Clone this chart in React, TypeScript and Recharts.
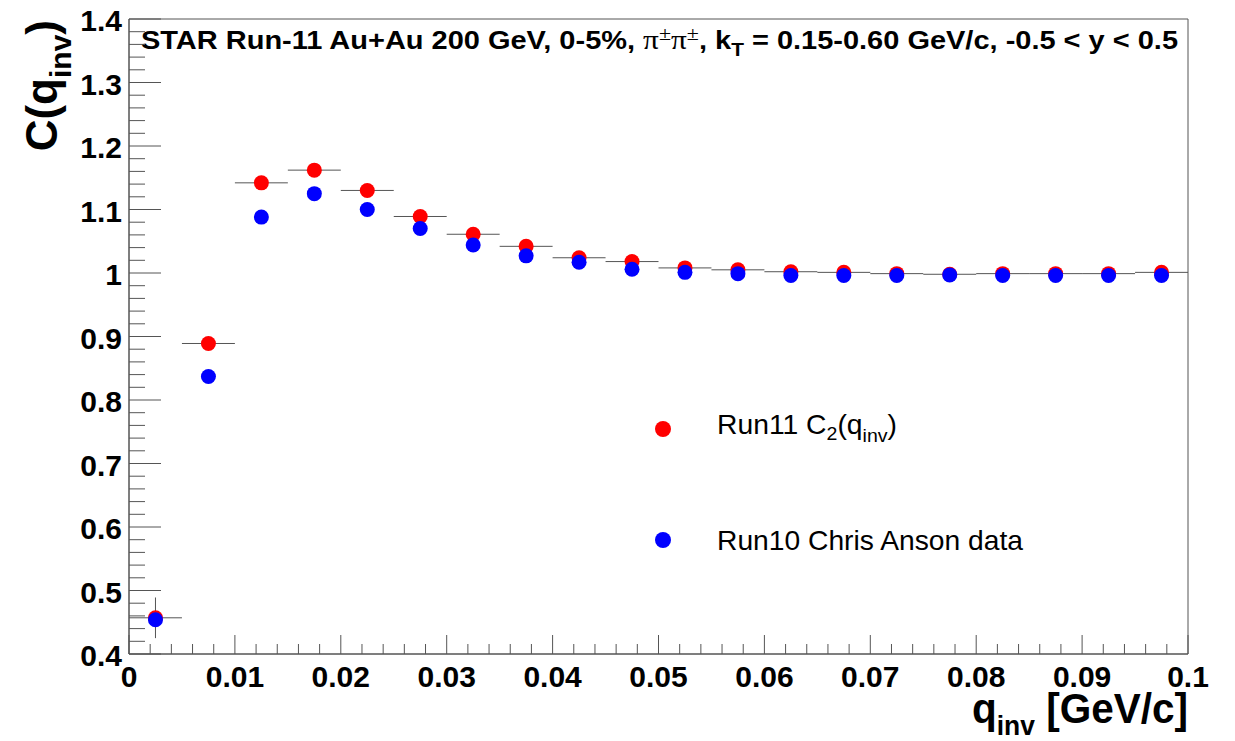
import { ScatterChart, Scatter, XAxis, YAxis, ErrorBar, ReferenceArea } from 'recharts'

const Q_BINS = [
  0.0025, 0.0075, 0.0125, 0.0175, 0.0225, 0.0275, 0.0325, 0.0375, 0.0425, 0.0475,
  0.0525, 0.0575, 0.0625, 0.0675, 0.0725, 0.0775, 0.0825, 0.0875, 0.0925, 0.0975,
]
const Q_HALF_WIDTH = 0.0025

// Run11 C2(qinv)
const RUN11 = [
  0.457, 0.889, 1.142, 1.162, 1.130, 1.089, 1.061, 1.042, 1.024, 1.018,
  1.008, 1.005, 1.002, 1.001, 0.999, 0.998, 0.999, 0.999, 0.999, 1.001,
]
const RUN11_ERR = [
  0.032, 0.004, 0.003, 0.003, 0.002, 0.002, 0.002, 0.002, 0.001, 0.001,
  0.001, 0.001, 0.001, 0.001, 0.001, 0.001, 0.001, 0.001, 0.001, 0.001,
]
// Run10 Chris Anson data
const RUN10 = [
  0.454, 0.837, 1.088, 1.125, 1.100, 1.070, 1.044, 1.027, 1.017, 1.006,
  1.001, 0.999, 0.996, 0.996, 0.996, 0.997, 0.996, 0.996, 0.996, 0.996,
]

const X_MAJOR = [0, 0.01, 0.02, 0.03, 0.04, 0.05, 0.06, 0.07, 0.08, 0.09, 0.1]
const X_LABELS = ['0', '0.01', '0.02', '0.03', '0.04', '0.05', '0.06', '0.07', '0.08', '0.09', '0.1']
const Y_MAJOR = [0.4, 0.5, 0.6, 0.7, 0.8, 0.9, 1.0, 1.1, 1.2, 1.3, 1.4]
const Y_LABELS = ['0.4', '0.5', '0.6', '0.7', '0.8', '0.9', '1', '1.1', '1.2', '1.3', '1.4']

// 5 subdivisions between major ticks
const X_TICKS = Array.from({ length: 51 }, (_, i) => +(i * 0.002).toFixed(4))
const Y_TICKS = Array.from({ length: 51 }, (_, i) => +(0.4 + i * 0.02).toFixed(3))

const run11Data = Q_BINS.map((q, i) => ({ q, c: RUN11[i], ex: Q_HALF_WIDTH, ey: RUN11_ERR[i] }))
const run10Data = Q_BINS.map((q, i) => ({ q, c: RUN10[i] }))

const FONT = 'Liberation Sans, Arial, Helvetica, sans-serif'
const SERIF = 'Liberation Serif, Times New Roman, serif'
const LINE = '#555'

const majorIndex = (list: number[], v: number) => list.findIndex((m) => Math.abs(m - v) < 1e-7)

function XTick(props: any) {
  const { x, y, payload } = props
  const idx = majorIndex(X_MAJOR, payload.value)
  const major = idx >= 0
  return (
    <g>
      <line x1={x} x2={x} y1={y} y2={y - (major ? 19 : 10)} stroke={LINE} />
      {major && (
        <text x={x} y={y + 33} textAnchor="middle" fontFamily={FONT} fontWeight="bold" fontSize={30} fill="#000">
          {X_LABELS[idx]}
        </text>
      )}
    </g>
  )
}

function YTick(props: any) {
  const { x, y, payload } = props
  const idx = majorIndex(Y_MAJOR, payload.value)
  const major = idx >= 0
  return (
    <g>
      <line x1={x} x2={x + (major ? 32 : 16)} y1={y} y2={y} stroke={LINE} />
      {major && (
        <text x={x - 7} y={y + 12} textAnchor="end" fontFamily={FONT} fontWeight="bold" fontSize={30} fill="#000">
          {Y_LABELS[idx]}
        </text>
      )}
    </g>
  )
}

const dot = (color: string) => (p: any) => <circle cx={p.cx} cy={p.cy} r={7.5} fill={color} />

function Annotations() {
  return (
    <g fontFamily={FONT}>
      <text x={141} y={49} fontSize={25} fontWeight="bold" fill="#000" textLength={1037} lengthAdjust="spacingAndGlyphs">
        STAR Run-11 Au+Au 200 GeV, 0-5%,{' '}
        <tspan fontFamily={SERIF} fontWeight="normal" fontSize={27}>π</tspan>
        <tspan fontFamily={SERIF} fontWeight="normal" fontSize={19} dy={-9}>±</tspan>
        <tspan fontFamily={SERIF} fontWeight="normal" fontSize={27} dy={9}>π</tspan>
        <tspan fontFamily={SERIF} fontWeight="normal" fontSize={19} dy={-9}>±</tspan>
        <tspan dy={9}>, k</tspan>
        <tspan fontSize={18} dy={7}>T</tspan>
        <tspan dy={-7}> = 0.15-0.60 GeV/c, -0.5 &lt; y &lt; 0.5</tspan>
      </text>

      <circle cx={663} cy={429} r={8} fill="#ff0000" />
      <text x={717} y={434} fontSize={27.5} fill="#000" textLength={180} lengthAdjust="spacingAndGlyphs">
        Run11 C<tspan fontSize={19} dy={6}>2</tspan>
        <tspan dy={-6}>(q</tspan>
        <tspan fontSize={19} dy={8}>inv</tspan>
        <tspan dy={-8}>)</tspan>
      </text>
      <circle cx={663} cy={540} r={8} fill="#0000ff" />
      <text x={717} y={550} fontSize={27.5} fill="#000" textLength={306} lengthAdjust="spacingAndGlyphs">
        Run10 Chris Anson data
      </text>

      <text transform="translate(57,20) rotate(-90)" textAnchor="end" fontSize={44} fontWeight="bold" fill="#000">
        C(q<tspan fontSize={30} dy={14}>inv</tspan>
        <tspan dy={-14}>)</tspan>
      </text>

      <text
        x={1188}
        y={723}
        textAnchor="end"
        fontSize={43}
        fontWeight="bold"
        fill="#000"
        textLength={216}
        lengthAdjust="spacingAndGlyphs"
      >
        q<tspan fontSize={28} dy={12}>inv</tspan>
        <tspan dy={-12}>{'  '}[GeV/c]</tspan>
      </text>
    </g>
  )
}

export default function App() {
  return (
    <div style={{ position: 'absolute', left: 0, top: 0, background: '#fff' }}>
      <ScatterChart width={1235} height={741} margin={{ top: 19, right: 47, left: 0, bottom: 0 }}>
        <XAxis
          type="number"
          dataKey="q"
          domain={[0, 0.1]}
          ticks={X_TICKS}
          interval={0}
          tickSize={0}
          tickMargin={0}
          tick={<XTick />}
          height={87}
          axisLine={{ stroke: LINE }}
        />
        <YAxis
          type="number"
          dataKey="c"
          domain={[0.4, 1.4]}
          ticks={Y_TICKS}
          interval={0}
          tickSize={0}
          tickMargin={0}
          tick={<YTick />}
          width={129}
          axisLine={{ stroke: LINE }}
        />
        <ReferenceArea
          x1={0}
          x2={0.1}
          y1={0.4}
          y2={1.4}
          fill="none"
          stroke={LINE}
          strokeOpacity={1}
          label={() => <Annotations />}
        />
        <Scatter data={run11Data} shape={dot('#ff0000')} isAnimationActive={false}>
          <ErrorBar dataKey="ex" direction="x" width={0} stroke={LINE} strokeWidth={1} isAnimationActive={false} />
          <ErrorBar dataKey="ey" direction="y" width={0} stroke={LINE} strokeWidth={1} isAnimationActive={false} />
        </Scatter>
        <Scatter data={run10Data} shape={dot('#0000ff')} isAnimationActive={false} />
      </ScatterChart>
    </div>
  )
}
